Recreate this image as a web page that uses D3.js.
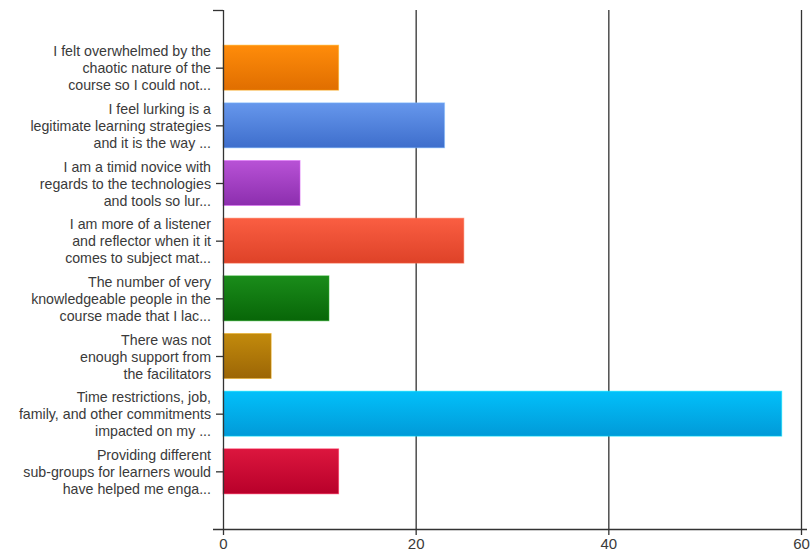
<!DOCTYPE html>
<html>
<head>
<meta charset="utf-8">
<style>
    body { margin: 0; background: #fff; }
    svg { font-family: "Liberation Sans", Arial, sans-serif; }
    .ylabel { font-size: 14.2px; fill: #3a3a3a; }
    .xaxis text { font-size: 15px; fill: #3a3a3a; }
</style>
</head>
<body>
<script src="https://d3js.org/d3.v7.min.js"></script>
<script>
// answers, three wrapped lines each
var labels = [
    ["I felt overwhelmed by the", "chaotic nature of the", "course so I could not..."],
    ["I feel lurking is a", "legitimate learning strategies", "and it is the way ..."],
    ["I am a timid novice with", "regards to the technologies", "and tools so lur..."],
    ["I am more of a listener", "and reflector when it it", "comes to subject mat..."],
    ["The number of very", "knowledgeable people in the", "course made that I lac..."],
    ["There was not", "enough support from", "the facilitators"],
    ["Time restrictions, job,", "family, and other commitments", "impacted on my ..."],
    ["Providing different", "sub-groups for learners would", "have helped me enga..."]
];
var values = [12, 23, 8, 25, 11, 5, 58, 12];
var colorsTop = ["#ff8c0a", "#6697ec", "#b852d6", "#fa5e42", "#1a8c1a", "#c28a0c", "#02c0fa", "#dc163e"];
var colorsBottom = ["#e06e00", "#3e6ecc", "#8c2eae", "#de4228", "#086608", "#9c6606", "#019ad8", "#b8002a"];
var xTicks = [0, 20, 40, 60];

var width = 810, height = 553;
var plotL = 223, plotR = 801, plotT = 10, plotB = 529;

var svg = d3.select("body").append("svg")
    .attr("width", width)
    .attr("height", height);

var defs = svg.append("defs");
values.forEach(function (v, i) {
    var g = defs.append("linearGradient")
        .attr("id", "grad" + i)
        .attr("x1", 0).attr("y1", 0).attr("x2", 0).attr("y2", 1);
    g.append("stop").attr("offset", "0%").attr("stop-color", colorsTop[i]);
    g.append("stop").attr("offset", "100%").attr("stop-color", colorsBottom[i]);
});

var x = d3.scaleLinear().domain([0, 60]).range([plotL, plotR]);
var y = d3.scalePoint().domain(d3.range(labels.length)).range([plotT, plotB]).padding(1);
var barH = y.step() * 0.78;

// vertical grid lines
svg.append("g")
    .selectAll("line")
    .data(xTicks.slice(1))
    .enter().append("line")
    .attr("x1", function (d) { return x(d) + 0.5; })
    .attr("x2", function (d) { return x(d) + 0.5; })
    .attr("y1", plotT)
    .attr("y2", plotB)
    .attr("stroke", "#333")
    .attr("stroke-width", 1.3);

// bars
svg.append("g")
    .selectAll("rect")
    .data(values)
    .enter().append("rect")
    .attr("x", x(0))
    .attr("y", function (d, i) { return y(i) - barH / 2; })
    .attr("width", function (d) { return x(d) - x(0); })
    .attr("height", barH)
    .attr("fill", function (d, i) { return "url(#grad" + i + ")"; })
    .attr("stroke", function (d, i) { return d3.color(colorsTop[i]).brighter(0.6); })
    .attr("stroke-opacity", 0.5)
    .attr("stroke-width", 1);

// x axis
var xAxis = svg.append("g")
    .attr("class", "xaxis")
    .attr("transform", "translate(0," + plotB + ")")
    .call(d3.axisBottom(x).tickValues(xTicks).tickSize(6).tickPadding(3).tickSizeOuter(0));
xAxis.select(".domain").remove();
xAxis.selectAll("line").attr("stroke", "#333").attr("stroke-width", 1.3);
xAxis.append("line")
    .attr("x1", plotL - 10).attr("x2", plotR + 6)
    .attr("y1", 0.5).attr("y2", 0.5)
    .attr("stroke", "#333").attr("stroke-width", 1.3);

// y axis
var yAxis = svg.append("g").attr("transform", "translate(" + plotL + ",0)");
yAxis.append("line")
    .attr("x1", 0.5).attr("x2", 0.5)
    .attr("y1", plotT).attr("y2", plotB)
    .attr("stroke", "#333").attr("stroke-width", 1.3);
yAxis.append("line")
    .attr("x1", -10).attr("x2", 0)
    .attr("y1", plotT + 0.5).attr("y2", plotT + 0.5)
    .attr("stroke", "#333").attr("stroke-width", 1.3);
yAxis.selectAll(".tk")
    .data(labels)
    .enter().append("line")
    .attr("class", "tk")
    .attr("x1", -7).attr("x2", 0)
    .attr("y1", function (d, i) { return y(i) + 0.5; })
    .attr("y2", function (d, i) { return y(i) + 0.5; })
    .attr("stroke", "#333").attr("stroke-width", 1.3);

var lbl = svg.append("g")
    .selectAll("text")
    .data(labels)
    .enter().append("text")
    .attr("class", "ylabel")
    .attr("text-anchor", "end")
    .attr("x", plotL - 12)
    .attr("y", function (d, i) { return y(i); });
lbl.selectAll("tspan")
    .data(function (d) { return d; })
    .enter().append("tspan")
    .attr("x", plotL - 12)
    .attr("dy", function (d, j) { return j === 0 ? "-11.5" : "17"; })
    .text(function (d) { return d; });
</script>
</body>
</html>
